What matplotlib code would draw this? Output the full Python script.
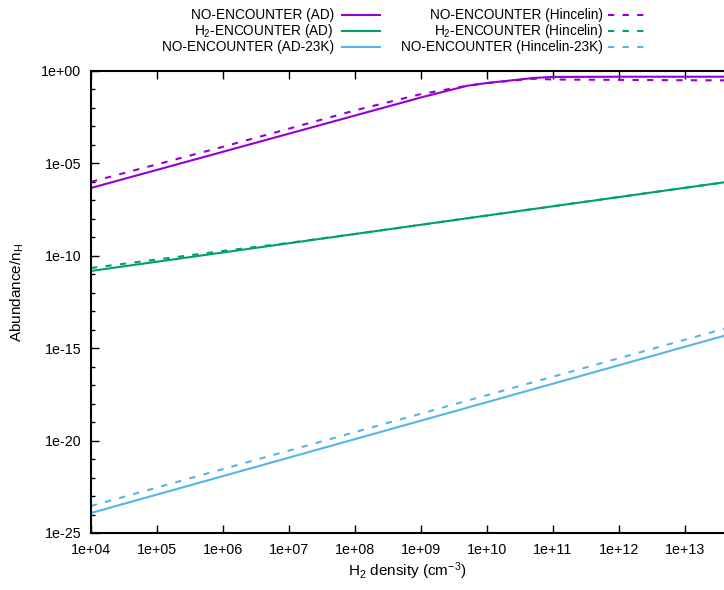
import numpy as np
import matplotlib
matplotlib.use("Agg")
import matplotlib.pyplot as plt
from matplotlib.lines import Line2D

plt.rcParams['font.family'] = ['Liberation Sans', 'DejaVu Sans']
plt.rcParams['mathtext.fontset'] = 'custom'
plt.rcParams['mathtext.rm'] = 'Liberation Sans'
plt.rcParams['mathtext.it'] = 'Liberation Sans'

# H2 density (cm^-3)
density = [1e4, 1e5, 1e6, 1e7, 1e8, 1e9, 5e9, 1e10, 5e10, 1e11, 1e12, 1e13, 1e14]

# log10 abundances
no_ad = [-6.33, -5.35, -4.37, -3.39, -2.41, -1.43, -0.80, -0.65, -0.38, -0.32, -0.31, -0.31, -0.31]
no_hin = [-6.00, -5.05, -4.10, -3.12, -2.13, -1.25, -0.80, -0.65, -0.42, -0.46, -0.48, -0.50, -0.51]
h2_ad = [-10.82, -10.32, -9.82, -9.32, -8.82, -8.32, -7.97, -7.82, -7.47, -7.32, -6.82, -6.32, -5.82]
h2_hin = [-10.66, -10.20, -9.74, -9.30, -8.82, -8.32, -7.97, -7.82, -7.47, -7.32, -6.82, -6.32, -5.82]
no_ad23 = [-23.92, -22.92, -21.92, -20.92, -19.92, -18.92, -18.22, -17.92, -17.22, -16.92, -15.92, -14.92, -13.92]
no_hin23 = [-23.54, -22.54, -21.54, -20.54, -19.54, -18.54, -17.84, -17.54, -16.84, -16.54, -15.54, -14.54, -13.54]

series = [
    ("NO-ENCOUNTER (AD)", no_ad, "#9400d3", "-"),
    ("NO-ENCOUNTER (Hincelin)", no_hin, "#9400d3", "--"),
    ("H$_2$-ENCOUNTER (AD)", h2_ad, "#009e73", "-"),
    ("H$_2$-ENCOUNTER (Hincelin)", h2_hin, "#009e73", "--"),
    ("NO-ENCOUNTER (AD-23K)", no_ad23, "#56b4e9", "-"),
    ("NO-ENCOUNTER (Hincelin-23K)", no_hin23, "#56b4e9", "--"),
]

fig = plt.figure(figsize=(7.24, 5.90), dpi=100)
ax = fig.add_axes([91 / 724, 57 / 590, 1 - 91 / 724, 462 / 590])

for label, vals, col, ls in series:
    ln, = ax.plot(density, 10.0 ** np.array(vals), color=col, lw=1.5, ls=ls)
    if ls == "--":
        ln.set_dashes((3, 4))

ax.set_xscale("log")
ax.set_yscale("log")
ax.set_xlim(1e4, 10 ** 13.59)
ax.set_ylim(1e-25, 1e0)

xt = [10.0 ** k for k in range(4, 14)]
ax.set_xticks(xt)
ax.set_xticklabels(["%.0e" % v for v in xt])
yt = [10.0 ** k for k in range(-25, 1, 5)]
ax.set_yticks(yt)
ax.set_yticklabels(["%.0e" % v for v in yt])
ax.set_yticks([10.0 ** k for k in range(-25, 1)], minor=True)
ax.xaxis.set_minor_locator(matplotlib.ticker.NullLocator())
ax.yaxis.set_minor_formatter(matplotlib.ticker.NullFormatter())

ax.tick_params(which="major", direction="in", length=6, width=1, top=True, right=False,
               labelsize=10.3, pad=7, colors="black")
ax.tick_params(which="minor", direction="in", length=3, width=1, top=False, right=False)
ax.spines["right"].set_visible(False)
for s in ["left", "top", "bottom"]:
    ax.spines[s].set_linewidth(1.5)

ax.set_xlabel("H$_2$ density (cm$^{-3}$)", fontsize=11, labelpad=3)
ax.set_ylabel("Abundance/n$_H$", fontsize=11, labelpad=5)
ax.yaxis.set_label_coords(-0.102, 0.52)

# gnuplot-style key: right-aligned text, sample to the right
rows_y = [15, 31, 47]
cols = [(334, 342, 380), (603, 608, 647)]
for i, (label, vals, col, ls) in enumerate(series):
    c = i % 2
    r = i // 2
    tx, x0, x1 = cols[c]
    y = 1 - rows_y[r] / 590
    fig.text(tx / 724, y, label, ha="right", va="center", fontsize=9.8)
    ln = Line2D([x0 / 724, x1 / 724], [y, y], transform=fig.transFigure,
                color=col, lw=1.5, ls=ls)
    if ls == "--":
        ln.set_dashes((3, 4))
    fig.add_artist(ln)

fig.savefig("out.png", dpi=100)
